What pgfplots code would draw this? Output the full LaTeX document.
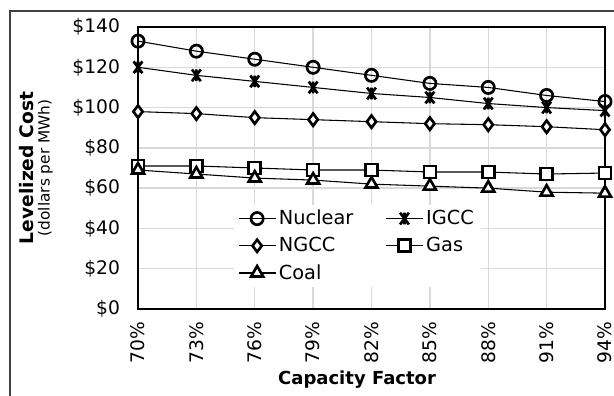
\documentclass[border=0pt]{standalone}
\usepackage{pgfplots}
\pgfplotsset{compat=1.18}
\usepackage{fontspec}
\setmainfont{DejaVu Sans}
\definecolor{gridgray}{HTML}{D9D9D9}
\definecolor{framegray}{HTML}{404040}
\pgfdeclareplotmark{xstar}{%
  \pgfpathmoveto{\pgfqpoint{-0.75\pgfplotmarksize}{-\pgfplotmarksize}}%
  \pgfpathlineto{\pgfqpoint{0.75\pgfplotmarksize}{\pgfplotmarksize}}%
  \pgfpathmoveto{\pgfqpoint{-0.75\pgfplotmarksize}{\pgfplotmarksize}}%
  \pgfpathlineto{\pgfqpoint{0.75\pgfplotmarksize}{-\pgfplotmarksize}}%
  \pgfpathmoveto{\pgfqpoint{0pt}{-\pgfplotmarksize}}%
  \pgfpathlineto{\pgfqpoint{0pt}{\pgfplotmarksize}}%
  \pgfusepathqstroke}
\begin{document}
\begin{tikzpicture}
\useasboundingbox (0,0) rectangle (460.5pt,297pt);
\draw[framegray, line width=1.6pt] (7.5pt,-20pt) rectangle (480pt,288.75pt);
\begin{axis}[
  at={(103.5pt,65.25pt)}, anchor=south west,
  scale only axis, width=350.25pt, height=211.5pt,
  xmin=70, xmax=94, ymin=0, ymax=140,
  xtick={70,73,76,79,82,85,88,91,94},
  ytick={0,20,40,60,80,100,120,140},
  /pgf/number format/assume math mode=true,
  xticklabel={\pgfmathprintnumber{\tick}\%},
  yticklabel={\$\pgfmathprintnumber{\tick}},
  tick style={draw=none},
  grid=major,
  major grid style={gridgray, line width=1.1pt},
  axis line style={black, line width=1.4pt},
  tick label style={font=\fontsize{14}{16}\selectfont},
  xticklabel style={rotate=90, anchor=east, xshift=-6pt},
  yticklabel style={anchor=east, xshift=-10pt},
  xlabel={Capacity Factor},
  xlabel style={font=\fontsize{13.5}{15}\selectfont\bfseries, at={(rel axis cs:0.469,-0.252)}, anchor=center},
  ylabel={{\fontsize{14}{16}\selectfont\bfseries Levelized Cost}\\{\fontsize{11.5}{12}\selectfont (dollars per MWh)}},
  ylabel style={align=center, at={(rel axis cs:-0.218,0.5)}, anchor=center},
  legend columns=2,
  legend style={at={(rel axis cs:0.205,0.37)}, anchor=north west, draw=none, fill=white,
    font=\fontsize{14.5}{16}\selectfont, row sep=4pt,
    /tikz/every even column/.append style={column sep=22pt}},
  legend cell align=left,
  legend image code/.code={\draw[mark repeat=2,mark phase=2] plot coordinates {(0cm,0cm) (0.49cm,0cm) (0.98cm,0cm)};},
  every axis plot/.append style={black, line width=0.8pt, mark options={solid, fill=white, line width=2pt}},
]
\addplot[mark=o, mark size=4.6pt] coordinates {(70,133) (73,128) (76,124) (79,120) (82,116) (85,112) (88,110) (91,106) (94,103)};
\addlegendentry{Nuclear}
\addplot[mark=xstar, mark size=4.4pt] coordinates {(70,120) (73,116) (76,113) (79,110) (82,107) (85,105) (88,102) (91,100) (94,98.5)};
\addlegendentry{IGCC}
\addplot[mark=diamond*, mark size=4.6pt] coordinates {(70,98) (73,97) (76,95) (79,94) (82,93) (85,92) (88,91.5) (91,90.5) (94,89)};
\addlegendentry{NGCC}
\addplot[mark=square*, mark size=4.5pt] coordinates {(70,71) (73,71) (76,70) (79,69) (82,69) (85,68) (88,68) (91,67) (94,67.5)};
\addlegendentry{Gas}
\addplot[mark=triangle*, mark size=5.2pt] coordinates {(70,69) (73,67) (76,65) (79,64) (82,62) (85,61) (88,60) (91,58) (94,57.5)};
\addlegendentry{Coal}
\end{axis}
\end{tikzpicture}
\end{document}
